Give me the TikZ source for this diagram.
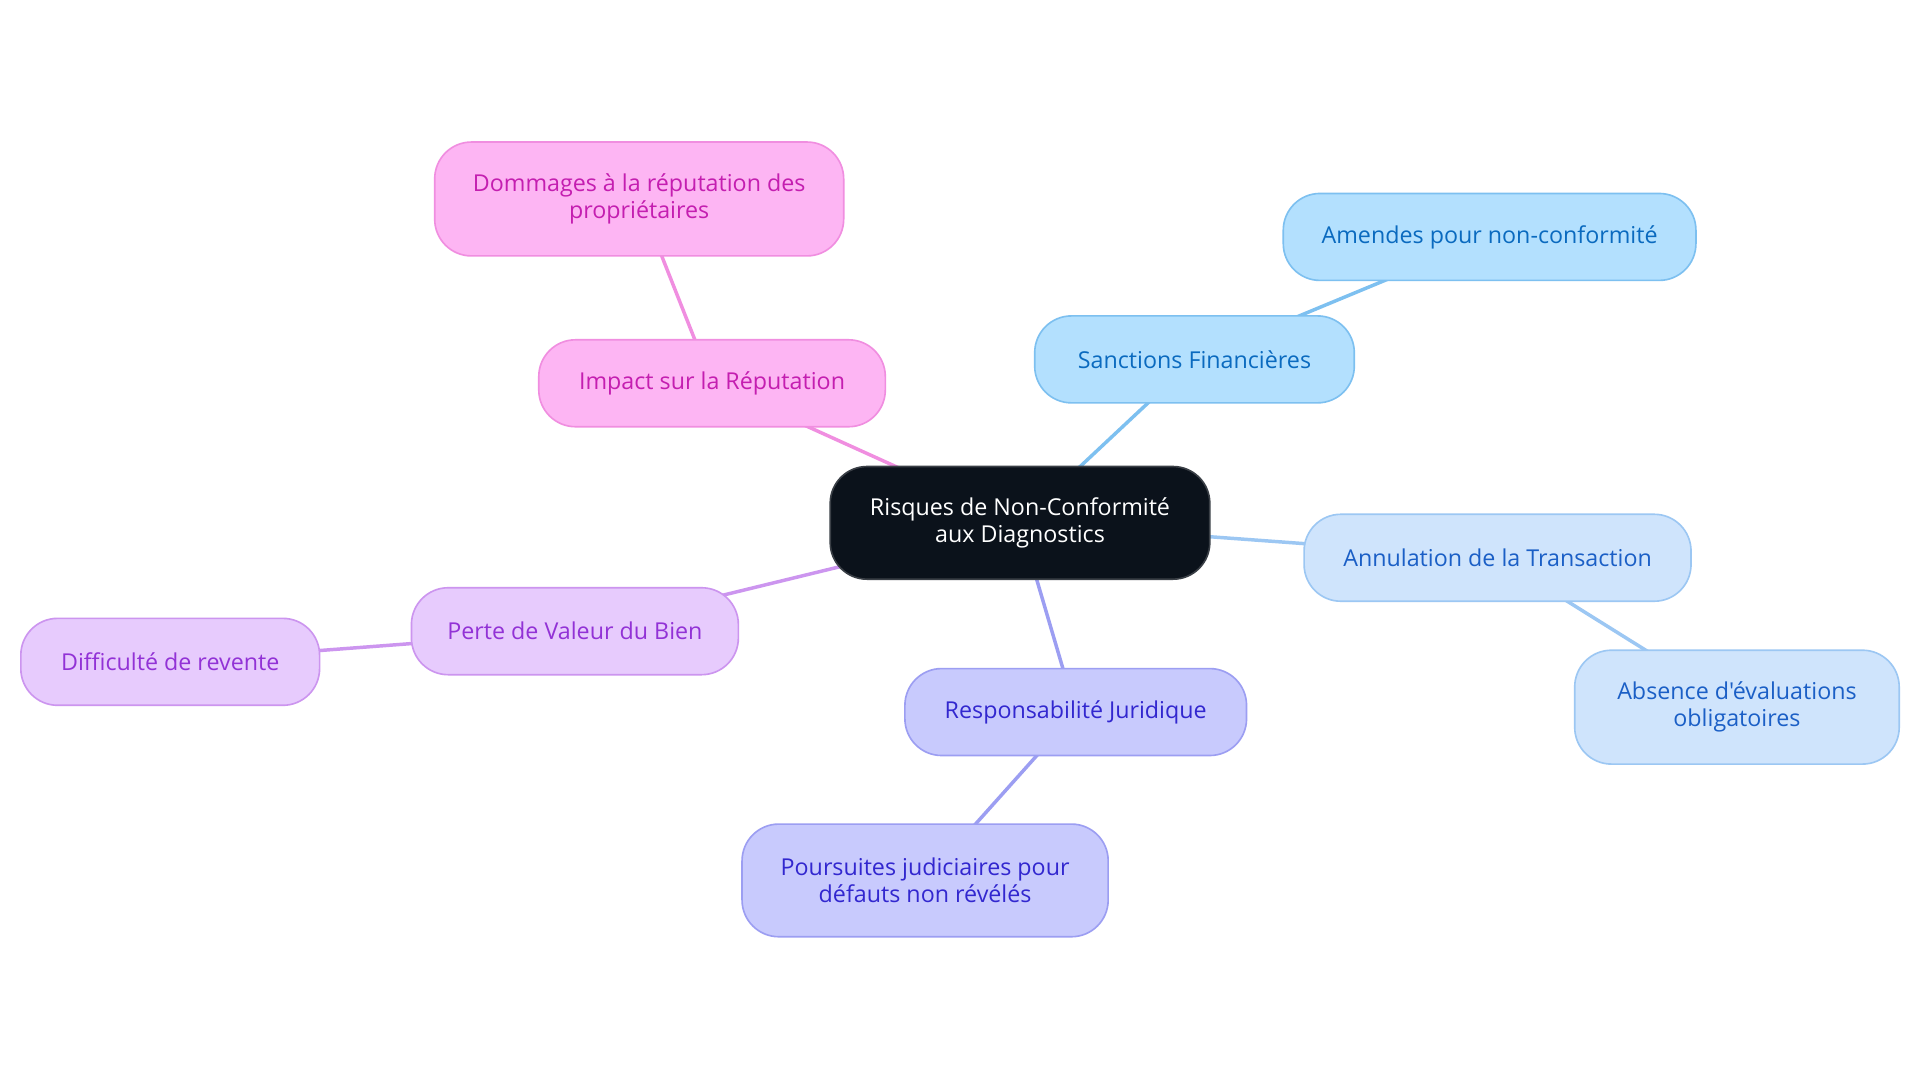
\documentclass[tikz,border=0pt]{standalone}
\usepackage{fontspec}
\setmainfont{Open Sans}[Ligatures=TeXOff]
\definecolor{ctrfill}{HTML}{0B121B}
\definecolor{ctrdraw}{HTML}{3A3F46}
\definecolor{pkfill}{HTML}{FDB5F3}
\definecolor{pkdraw}{HTML}{F08EE0}
\definecolor{pktext}{HTML}{C41EB0}
\definecolor{sbfill}{HTML}{B3E0FE}
\definecolor{sbdraw}{HTML}{7DC0F0}
\definecolor{sbtext}{HTML}{0A6ABF}
\definecolor{lbfill}{HTML}{CFE4FC}
\definecolor{lbdraw}{HTML}{9CC7F3}
\definecolor{lbtext}{HTML}{1B5FC6}
\definecolor{vifill}{HTML}{C8CAFD}
\definecolor{vidraw}{HTML}{9C9EF2}
\definecolor{vitext}{HTML}{3227CF}
\definecolor{pufill}{HTML}{E7CBFD}
\definecolor{pudraw}{HTML}{CC95EF}
\definecolor{putext}{HTML}{9232D6}
\pgfdeclarelayer{background}
\pgfsetlayers{background,main}
\tikzset{
  box/.style={draw, line width=0.8pt, rounded corners=18pt, align=center, inner sep=0pt,
    font=\fontsize{11.4pt}{13.2pt}\selectfont, minimum height=42.6pt},
  ctr/.style={box, fill=ctrfill, draw=ctrdraw, text=white},
  pk/.style={box, fill=pkfill, draw=pkdraw, text=pktext},
  sb/.style={box, fill=sbfill, draw=sbdraw, text=sbtext},
  lb/.style={box, fill=lbfill, draw=lbdraw, text=lbtext},
  vi/.style={box, fill=vifill, draw=vidraw, text=vitext},
  pu/.style={box, fill=pufill, draw=pudraw, text=putext},
  link/.style={line width=1.7pt},
}
\begin{document}
\begin{tikzpicture}[x=0.6pt, y=-0.6pt]
\useasboundingbox (0,0) rectangle (1568,884);
\node[ctr, minimum width=186pt, minimum height=55.2pt] (c) at (833,427) {Risques de Non-Conformité\\aux Diagnostics};
\node[pk, minimum width=169.8pt] (imp) at (581.5,313) {Impact sur la Réputation};
\node[pk, minimum width=200.4pt, minimum height=55.8pt] (dom) at (522,162.5) {Dommages à la réputation des\\propriétaires};
\node[sb, minimum width=156.6pt] (san) at (975.5,293.5) {Sanctions Financières};
\node[sb, minimum width=202.2pt] (ame) at (1216.5,193.5) {Amendes pour non-conformité};
\node[lb, minimum width=189.6pt] (ann) at (1223,455.5) {Annulation de la Transaction};
\node[lb, minimum width=159pt, minimum height=55.8pt] (abs) at (1418.5,577.5) {Absence d'évaluations\\obligatoires};
\node[vi, minimum width=167.4pt] (res) at (878.5,581.5) {Responsabilité Juridique};
\node[vi, minimum width=179.4pt, minimum height=55.2pt] (pou) at (755.5,719) {Poursuites judiciaires pour\\défauts non révélés};
\node[pu, minimum width=160.2pt] (per) at (469.5,515.5) {Perte de Valeur du Bien};
\node[pu, minimum width=146.4pt] (dif) at (139,540.5) {Difficulté de revente};
\begin{pgfonlayer}{background}
\fill[white] (0,0) rectangle (1568,884);
\draw[link, draw=pkdraw] (c.center) -- (imp.center);
\draw[link, draw=pkdraw] (imp.center) -- (dom.center);
\draw[link, draw=sbdraw] (c.center) -- (san.center);
\draw[link, draw=sbdraw] (san.center) -- (ame.center);
\draw[link, draw=lbdraw] (c.center) -- (ann.center);
\draw[link, draw=lbdraw] (ann.center) -- (abs.center);
\draw[link, draw=vidraw] (c.center) -- (res.center);
\draw[link, draw=vidraw] (res.center) -- (pou.center);
\draw[link, draw=pudraw] (c.center) -- (per.center);
\draw[link, draw=pudraw] (per.center) -- (dif.center);
\end{pgfonlayer}
\end{tikzpicture}
\end{document}
